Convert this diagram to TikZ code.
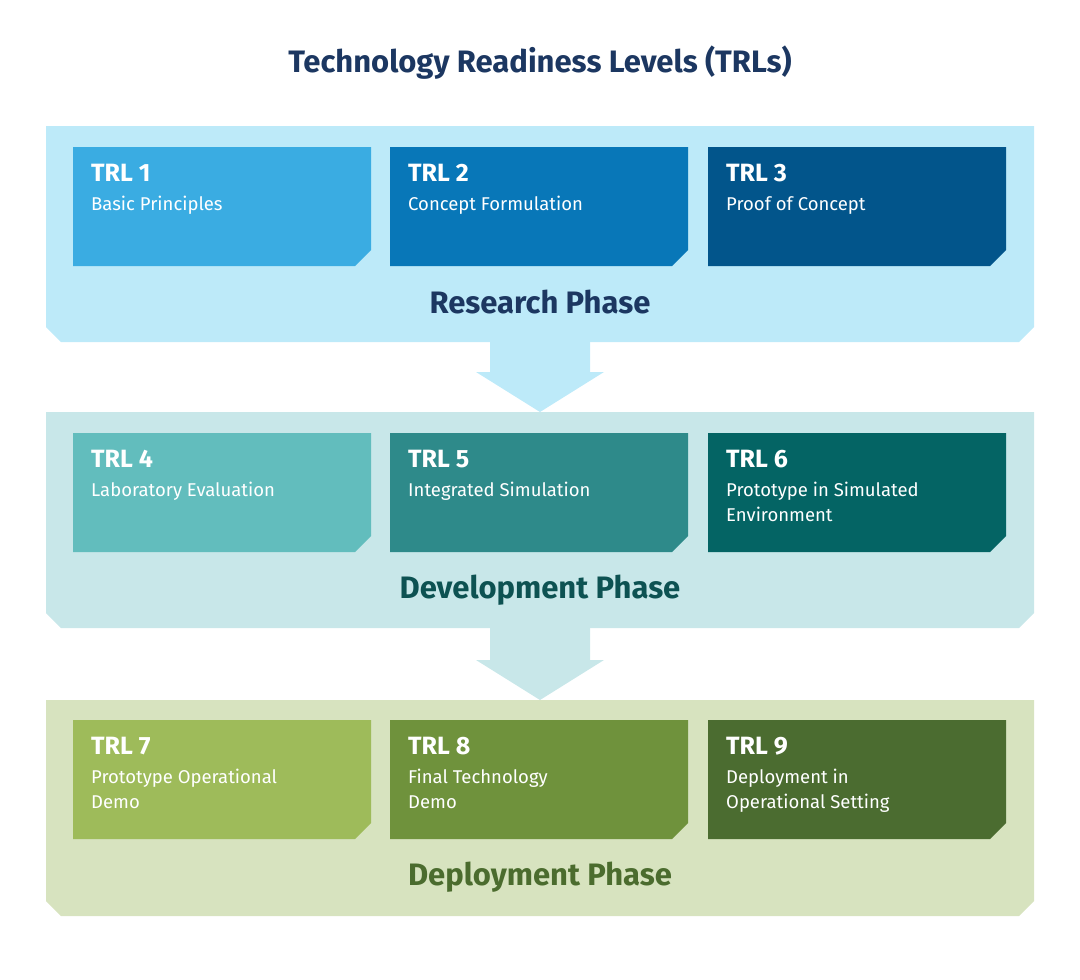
\documentclass[tikz,border=0pt]{standalone}
\usepackage{fontspec}
\setmainfont{Fira Sans}
\definecolor{bandA}{HTML}{BDEAF9}\definecolor{bandB}{HTML}{C8E7E9}\definecolor{bandC}{HTML}{D7E3BF}
\definecolor{a1}{HTML}{3AACE2}\definecolor{a2}{HTML}{0877B8}\definecolor{a3}{HTML}{02558B}
\definecolor{b1}{HTML}{62BDBD}\definecolor{b2}{HTML}{2E8A8A}\definecolor{b3}{HTML}{046464}
\definecolor{c1}{HTML}{9EBB5A}\definecolor{c2}{HTML}{6F923C}\definecolor{c3}{HTML}{4B6C30}
\definecolor{tA}{HTML}{1C3761}\definecolor{tB}{HTML}{0D5252}\definecolor{tC}{HTML}{4B6C2E}
\tikzset{trlhead/.style={anchor=base west,text=white,font=\fontsize{25}{28}\selectfont\bfseries,inner sep=0},
trlsub/.style={anchor=north west,text=white,font=\fontsize{18.5}{24.5}\selectfont,align=left,inner sep=0},
phase/.style={font=\fontsize{31}{34}\selectfont\bfseries,inner sep=0}}
\newcommand{\band}[3]{\fill[#3] (46,#1) -- (1034,#1) -- (1034,#2-15) -- (1019,#2) -- (61,#2) -- (46,#2-15) -- cycle;}
\newcommand{\bigarrow}[3]{\fill[#3] (490,#1) -- (590,#1) -- (590,#2-40) -- (604,#2-40) -- (540,#2) -- (476,#2-40) -- (490,#2-40) -- cycle;}
\newcommand{\trlbox}[7]{\fill[#3] (#1,#2) -- (#1+298,#2) -- (#1+298,#2+103) -- (#1+282,#2+119) -- (#1,#2+119) -- cycle;
\node[trlhead] (#7h) at (#1+18,#2+34) {#4};
\node[trlsub] (#7s) at (#1+18,#2+49) {#5\\#6};}
\begin{document}
\begin{tikzpicture}[x=1pt,y=-1pt]
\useasboundingbox (0,0) rectangle (1080,980);
\node[font=\fontsize{31}{34}\selectfont\bfseries,text=tA] (title) at (540,63) {Technology Readiness Levels (TRLs)};
\bigarrow{330}{412}{bandA}
\bigarrow{620}{700}{bandB}
\band{126}{342}{bandA}
\band{412}{628}{bandB}
\band{700}{916}{bandC}
\trlbox{73}{147}{a1}{TRL 1}{Basic Principles}{}{t1}
\trlbox{390}{147}{a2}{TRL 2}{Concept Formulation}{}{t2}
\trlbox{708}{147}{a3}{TRL 3}{Proof of Concept}{}{t3}
\trlbox{73}{433}{b1}{TRL 4}{Laboratory Evaluation}{}{t4}
\trlbox{390}{433}{b2}{TRL 5}{Integrated Simulation}{}{t5}
\trlbox{708}{433}{b3}{TRL 6}{Prototype in Simulated}{Environment}{t6}
\trlbox{73}{720}{c1}{TRL 7}{Prototype Operational}{Demo}{t7}
\trlbox{390}{720}{c2}{TRL 8}{Final Technology}{Demo}{t8}
\trlbox{708}{720}{c3}{TRL 9}{Deployment in}{Operational Setting}{t9}
\node[phase,text=tA] (p1) at (540,302) {Research Phase};
\node[phase,text=tB] (p2) at (540,590) {Development Phase};
\node[phase,text=tC] (p3) at (540,877) {Deployment Phase};
\end{tikzpicture}
\end{document}
